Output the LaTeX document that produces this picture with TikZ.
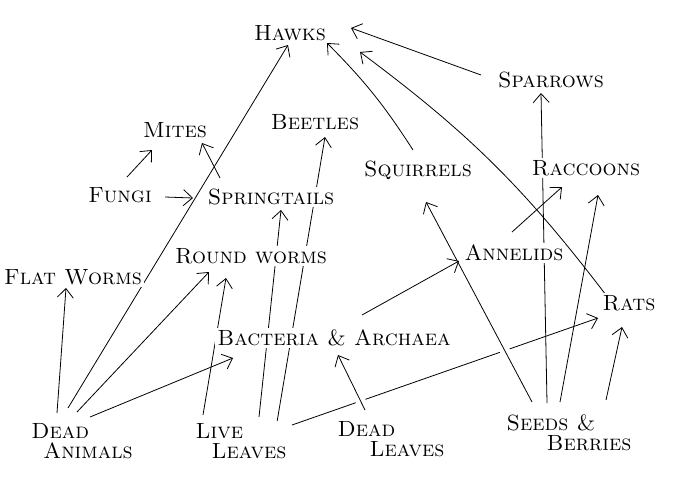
\documentclass[tikz,border=0pt]{standalone}
\usepackage{tikz}
\usetikzlibrary{arrows.meta,calc}
\pgfdeclarelayer{back}
\pgfsetlayers{back,main}
\tikzset{
	food web/.style={
		x=0.5pt, y=-0.5pt,
		line width=0.8pt,
		every node/.style={font=\fontsize{11}{10}\selectfont\scshape, inner sep=1pt},
		sp/.style={fill=white, align=left},
		ar/.style={-{Straight Barb[length=4.5pt,width=8pt]}},
	},
}

\begin{document}
\begin{tikzpicture}[food web]
   \useasboundingbox (0,0) rectangle (689,483);
   \node[sp] (hawks)   at (290,33)  {Hawks};
   \node[sp] (sparrows) at (551,80) {Sparrows};
   \node[sp] (mites)   at (175,130) {Mites};
   \node[sp] (beetles) at (315,122) {Beetles};
   \node[sp] (squirrels) at (418,170) {Squirrels};
   \node[sp] (raccoons) at (586,168) {Raccoons};
   \node[sp] (fungi)   at (120,195) {Fungi};
   \node[sp] (spring)  at (271,197) {Springtails};
   \node[sp] (rw)      at (251,256) {Round worms};
   \node[sp] (annelids) at (514,253) {Annelids};
   \node[sp] (fw)      at (73,277)  {Flat Worms};
   \node[sp] (rats)    at (629,303) {Rats};
   \node[sp] (bact)    at (334,338) {Bacteria \& Archaea};
   \node[sp] (da)      at (82,441)  {Dead\\\hspace*{6pt}Animals};
   \node[sp] (ll)      at (241,441) {Live\\\hspace*{8pt}Leaves};
   \node[sp] (dl)      at (391,439) {Dead\\\hspace*{16pt}Leaves};
   \node[sp] (seeds)   at (569,433) {Seeds \&\\\hspace*{20pt}Berries};
   \begin{pgfonlayer}{back}
   \draw[ar] ($(da)+(-25,-28)$) -- ($(fw)+(-7,11)$);
   \draw[ar] ($(da)+(-14,-33)$) -- ($(hawks)+(-2,12)$);
   \draw[ar] ($(da)+(-5,-29)$) -- ($(rw)+(-42,16)$);
   \draw[ar] ($(da)+(8,-24)$) -- ($(bact)+(-101,20)$);
   \draw[ar] ($(ll)+(-38,-26)$) -- ($(rw)+(-25,22)$);
   \draw[ar] ($(ll)+(18,-24)$) -- ($(spring)+(10,13)$);
   \draw[ar] ($(ll)+(36,-19)$) -- ($(beetles)+(10,15)$);
   \draw[ar] ($(ll)+(51,-16)$) -- ($(rats)+(-31,15)$);
   \draw[ar,preaction={draw=white,line width=5pt,-}] ($(dl)+(-26,-29)$) -- ($(bact)+(4,17)$);
   \draw[ar,preaction={draw=white,line width=5pt,-}] ($(seeds)+(-37,-31)$) -- ($(squirrels)+(8,32)$);
   \draw[ar] ($(bact)+(28,-23)$) -- ($(annelids)+(-55,8)$);
   \draw[ar] ($(seeds)+(-22,-30)$) -- ($(sparrows)+(-10,13)$);
   \draw[ar] ($(seeds)+(-9,-31)$) -- ($(raccoons)+(12,27)$);
   \draw[ar] ($(seeds)+(37,-33)$) -- ($(rats)+(-7,24)$);
   \draw[ar] ($(annelids)+(-2,-21)$) -- ($(raccoons)+(-24,19)$);
   \draw[ar] ($(rats)+(-23,-8)$) to[bend right=8] ($(hawks)+(70,19)$);
   \draw[ar] ($(squirrels)+(-5,-20)$) to[bend right=6] ($(hawks)+(37,10)$);
   \draw[ar] ($(sparrows)+(-70,-5)$) -- ($(hawks)+(61,-5)$);
   \draw[ar] ($(fungi)+(7,-18)$) -- ($(mites)+(-23,20)$);
   \draw[ar] ($(fungi)+(45,2)$) -- ($(spring)+(-78,1)$);
   \draw[ar] ($(spring)+(-51,-19)$) -- ($(mites)+(27,13)$);
   \end{pgfonlayer}
\end{tikzpicture}
\end{document}
